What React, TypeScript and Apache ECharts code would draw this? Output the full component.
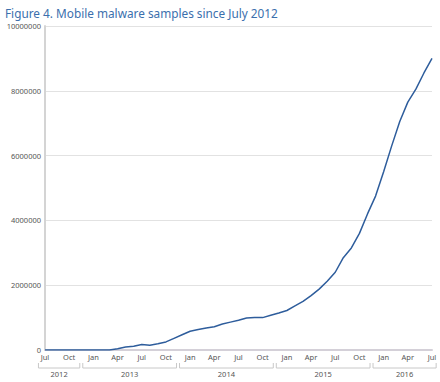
import React, { useEffect, useRef } from "react";
import * as echarts from "echarts";

const monthNames = ["Jan", "Feb", "Mar", "Apr", "May", "Jun", "Jul", "Aug", "Sep", "Oct", "Nov", "Dec"];

// Monthly categories Jul 2012 .. Jul 2016
const months: string[] = [];
for (let y = 2012; y <= 2016; y++) {
  for (let m = 0; m < 12; m++) {
    if (y === 2012 && m < 6) continue;
    if (y === 2016 && m > 6) continue;
    months.push(`${monthNames[m]} ${y}`);
  }
}

const samples = [
  0, 0, 0, 0, 0, 0, // Jul-Dec 2012
  0, 0, 0, 40000, 90000, 115000, 170000, 150000, 190000, 250000, 360000, 470000, // 2013
  580000, 630000, 680000, 720000, 800000, 860000, 920000, 990000, 1000000, 1000000, 1070000, 1140000, // 2014
  1220000, 1360000, 1500000, 1680000, 1880000, 2120000, 2400000, 2850000, 3150000, 3600000, 4200000, 4750000, // 2015
  5500000, 6300000, 7050000, 7650000, 8050000, 8550000, 9000000, // Jan-Jul 2016
];

const years = ["2012", "2013", "2014", "2015", "2016"];
const yearBounds = [-1, 4.5, 16.5, 28.5, 40.5, 48.7];

const title = "Figure 4. Mobile malware samples since July 2012";
const font = "'Noto Sans', sans-serif";

export default function App() {
  const ref = useRef<HTMLDivElement>(null);
  useEffect(() => {
    if (!ref.current) return;
    const chart = echarts.init(ref.current, null, { renderer: "svg" });
    chart.setOption({
      animation: false,
      title: {
        text: title,
        left: 0,
        top: 2,
        textStyle: { fontFamily: font, fontSize: 11.8, fontWeight: "normal", color: "#3b6fad" },
      },
      grid: { left: 45, right: 8, top: 26, bottom: 32, containLabel: false },
      xAxis: {
        type: "category",
        data: months,
        boundaryGap: false,
        axisLine: { lineStyle: { color: "#d4d0d8", width: 2 } },
        axisTick: { show: false },
        axisLabel: {
          interval: 2,
          margin: 3,
          fontSize: 7.5,
          fontFamily: font,
          color: "#555",
          formatter: (v: string) => v.split(" ")[0],
        },
        splitLine: { show: false },
      },
      yAxis: {
        type: "value",
        min: 0,
        max: 10000000,
        interval: 2000000,
        axisLine: { show: true, lineStyle: { color: "#d4d4d4", width: 2 } },
        axisTick: { show: false },
        axisLabel: {
          margin: 4,
          fontSize: 7.5,
          fontFamily: font,
          color: "#555",
          formatter: (v: number) => String(v),
        },
        splitLine: { lineStyle: { color: "#e2e2e2", width: 1 } },
      },
      series: [
        {
          type: "line",
          data: samples,
          symbol: "none",
          lineStyle: { color: "#2e5d9c", width: 1.5 },
        },
      ],
    });

    const p0 = chart.convertToPixel({ xAxisIndex: 0 }, 0) as number;
    const p1 = chart.convertToPixel({ xAxisIndex: 0 }, 1) as number;
    const step = p1 - p0;
    const xAt = (i: number) => p0 + step * i;
    const axisY = chart.convertToPixel({ yAxisIndex: 0 }, 0) as number;
    const lineY = axisY + 18;
    const graphics: any[] = [];
    years.forEach((yr, k) => {
      const a = xAt(yearBounds[k]) + 1.5;
      const b = xAt(yearBounds[k + 1]) - 1.5;
      graphics.push({
        type: "polyline",
        shape: { points: [[a, lineY - 5], [a, lineY], [b, lineY], [b, lineY - 5]] },
        style: { stroke: "#c8c8c8", lineWidth: 1, fill: null },
        silent: true,
      });
      graphics.push({
        type: "text",
        x: (a + b) / 2,
        y: lineY + 6,
        style: {
          text: yr,
          fontSize: 7.5,
          fontFamily: font,
          fill: "#555",
          align: "center",
          verticalAlign: "middle",
        },
        silent: true,
      });
    });
    chart.setOption({ graphic: graphics });

    return () => chart.dispose();
  }, []);
  return <div ref={ref} style={{ width: 440, height: 382, position: "absolute", left: 0, top: 0 }} />;
}
